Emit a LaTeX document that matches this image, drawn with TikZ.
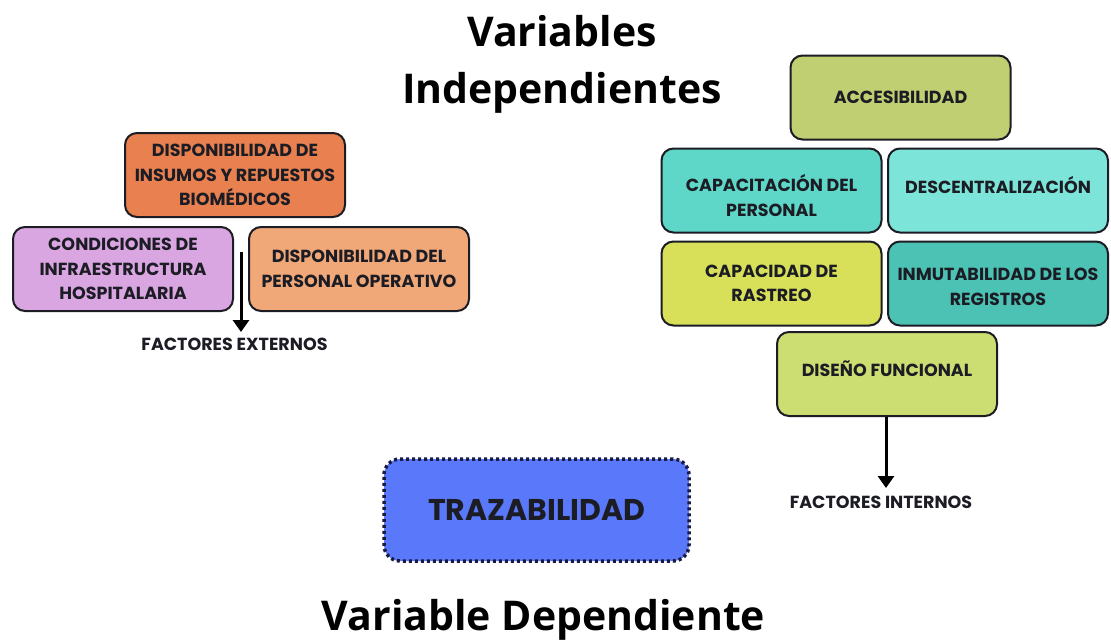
\documentclass[tikz,border=0pt]{standalone}
\usepackage{fontspec}
\setmainfont{Poppins}
\newfontfamily\titlefont{Open Sans}
\usetikzlibrary{arrows.meta}
\definecolor{ink}{HTML}{1C1C24}
\definecolor{cOrange}{HTML}{E8804F}
\definecolor{cPurple}{HTML}{D9A6E2}
\definecolor{cLOrange}{HTML}{F0A878}
\definecolor{cAcc}{HTML}{BFCF72}
\definecolor{cCap}{HTML}{5ED6C8}
\definecolor{cDes}{HTML}{7CE4D8}
\definecolor{cRas}{HTML}{D8E05A}
\definecolor{cInm}{HTML}{4CC2B4}
\definecolor{cDis}{HTML}{CCDE72}
\definecolor{cTraz}{HTML}{5A78FA}
\definecolor{cTrazB}{HTML}{1A1A40}
\tikzset{
  box/.style={draw=ink, line width=2pt, rounded corners=12pt, minimum width=220pt, minimum height=84pt,
    align=center, text=ink, font=\fontsize{17.5}{24.5}\selectfont\bfseries, inner sep=0pt},
  boxtext/.style={align=center, text=ink, font=\fontsize{17.5}{24.5}\selectfont\bfseries, inner sep=0pt},
  title/.style={font=\titlefont\fontsize{41}{57}\selectfont\bfseries, text=black, align=center},
  factor/.style={font=\fontsize{17.5}{20}\selectfont\bfseries, text=ink},
  bigarrow/.style={line width=3pt, draw=black, -{Triangle[width=16pt,length=12pt]}}
}
\begin{document}
\begin{tikzpicture}[x=1pt,y=-1pt]
\useasboundingbox (0,0) rectangle (1111,643);
\fill[white] (0,0) rectangle (1111,643);
% titles
\node[title] (tind) at (562,64) {Variables\\Independientes};
\node[title] (tdep) at (543.5,620) {Variable Dependiente};
% external factors
\node[box, fill=cOrange] (insumos) at (235,175) {DISPONIBILIDAD DE\\INSUMOS Y REPUESTOS\\BIOMÉDICOS};
\node[box, fill=cPurple] (infra) at (123,269) {CONDICIONES DE\\INFRAESTRUCTURA\\HOSPITALARIA};
\node[box, fill=cLOrange] (personal) at (359,269) {DISPONIBILIDAD DEL\\PERSONAL OPERATIVO};
\coordinate (extstart) at (241,252);
\node[factor] (ext) at (234.5,344) {FACTORES EXTERNOS};
\draw[bigarrow] (extstart) -- (241,332);
% internal factors
\node[box, fill=cAcc] (acc) at (900.5,97.5) {ACCESIBILIDAD};
\node[box, fill=cCap] (capac) at (771.5,190.5) {};
\node[boxtext] (capacT) at (771.5,195.5) {CAPACITACIÓN DEL\\PERSONAL};
\node[box, fill=cDes] (desc) at (998,190.5) {};
\node[boxtext] (descT) at (998,185) {DESCENTRALIZACIÓN};
\node[box, fill=cRas] (rast) at (771.5,283.5) {CAPACIDAD DE\\RASTREO};
\node[box, fill=cInm] (inmu) at (998,283.5) {};
\node[boxtext] (inmuT) at (998,287) {INMUTABILIDAD DE LOS\\REGISTROS};
\node[box, fill=cDis] (dis) at (887,374) {};
\node[boxtext] (disT) at (887,369) {DISEÑO FUNCIONAL};
\node[factor] (int) at (881,502) {FACTORES INTERNOS};
\draw[bigarrow] (dis.south -| 886,0) -- (886,488);
% dependent
\node[draw=cTrazB, line width=3.5pt, dash pattern=on 3pt off 3pt, rounded corners=16pt, fill=cTraz,
  minimum width=305pt, minimum height=102pt, text=ink, font=\fontsize{30}{36}\selectfont\bfseries] (traz) at (536.5,510) {TRAZABILIDAD};
\end{tikzpicture}
\end{document}
